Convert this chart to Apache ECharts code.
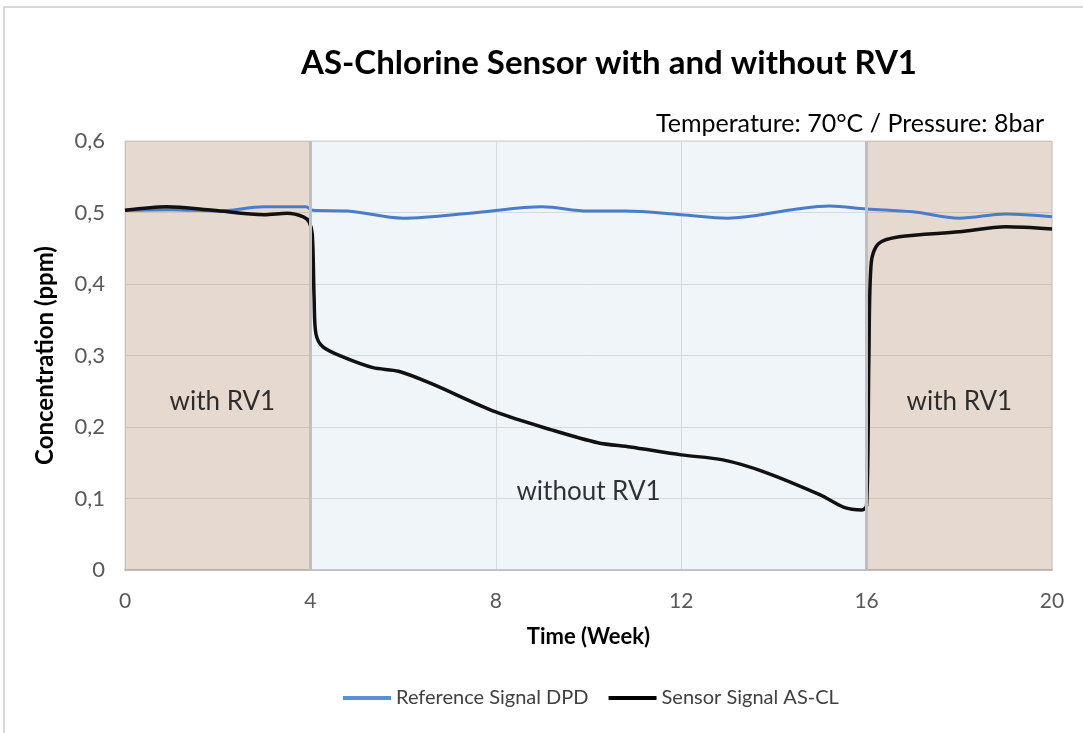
<!DOCTYPE html>
<html>
<head>
<meta charset="utf-8">
<script src="https://cdn.jsdelivr.net/npm/echarts@6/dist/echarts.min.js"></script>
<style>
  html, body { margin: 0; padding: 0; background: #fff; }
  #chart { width: 1083px; height: 733px; }
</style>
</head>
<body>
<div id="chart"></div>
<script>
// reference signal (DPD)
var refWeeks = [0, 1, 2, 3, 3.9, 4.05, 4.8, 6, 7.6, 9, 10, 10.8, 12, 13, 14.5, 15.2, 16, 17, 18, 19, 20];
var refValues = [0.503, 0.504, 0.502, 0.508, 0.508, 0.503, 0.502, 0.492, 0.5, 0.508, 0.502, 0.502, 0.497, 0.492, 0.505, 0.509, 0.505, 0.501, 0.492, 0.498, 0.494];

// sensor signal AS-CL
var sensorWeeks = [0, 0.9, 1.9, 3, 3.5, 3.85, 3.97, 4.04, 4.08, 4.12, 4.27, 4.7, 5.35, 5.9, 6.6, 8, 9.2, 10.2, 10.9, 12, 12.9, 13.8, 15, 15.5, 15.9, 16.0, 16.05, 16.1, 16.25, 16.7, 18, 19, 20];
var sensorValues = [0.503, 0.508, 0.503, 0.497, 0.499, 0.494, 0.487, 0.47, 0.38, 0.33, 0.312, 0.298, 0.283, 0.278, 0.261, 0.221, 0.196, 0.178, 0.172, 0.161, 0.154, 0.137, 0.105, 0.088, 0.084, 0.09, 0.3, 0.43, 0.456, 0.466, 0.473, 0.48, 0.477];

// phases
var phaseStart = [0, 4, 16];
var phaseEnd = [4, 16, 20];
var phaseNames = ['with RV1', 'without RV1', 'with RV1'];
var labelWeeks = [2.1, 10, 18];
var labelValues = [0.235, 0.11, 0.235];

var chart = echarts.init(document.getElementById('chart'));

var fontFam = 'Lato, "Open Sans", sans-serif';
var brown = 'rgba(187,155,128,0.37)';
var blue = 'rgba(205,222,238,0.3)';

function zip(xs, ys) {
  return xs.map(function (x, i) { return [x, ys[i]]; });
}

var option = {
  backgroundColor: '#fff',
  textStyle: { fontFamily: fontFam },
  title: [
    {
      text: 'AS-Chlorine Sensor with and without RV1',
      left: 296,
      top: 42,
      textStyle: { fontSize: 33, fontWeight: 'bold', color: '#000', fontFamily: fontFam }
    },
    {
      text: 'Temperature: 70°C / Pressure: 8bar',
      right: 34,
      top: 106,
      textStyle: { fontSize: 25, fontWeight: 'normal', color: '#000', fontFamily: fontFam }
    }
  ],
  graphic: [
    {
      type: 'rect',
      shape: { x: 4, y: 7, width: 1100, height: 800 },
      style: { fill: 'none', stroke: '#d9d9d9', lineWidth: 2 },
      silent: true
    }
  ],
  legend: {
    data: ['Reference Signal DPD', 'Sensor Signal AS-CL'],
    bottom: 20,
    left: 338,
    itemWidth: 48,
    itemHeight: 4,
    itemGap: 20,
    icon: 'rect',
    textStyle: { fontSize: 20, color: '#404040', fontFamily: fontFam }
  },
  grid: { left: 125, right: 31, top: 141, bottom: 163, show: true, borderColor: '#d0d0d0', borderWidth: 1 },
  xAxis: {
    type: 'value',
    min: 0,
    max: 20,
    interval: 4,
    name: 'Time (Week)',
    nameLocation: 'middle',
    nameGap: 56,
    nameTextStyle: { fontSize: 22, fontWeight: 'bold', color: '#000', fontFamily: fontFam },
    axisLine: { show: true, lineStyle: { color: '#bfbfbf', width: 2 } },
    axisTick: { show: false },
    axisLabel: { fontSize: 21, color: '#595959', margin: 21 },
    splitLine: { show: true, lineStyle: { color: '#d9d9d9', width: 1 } }
  },
  yAxis: {
    type: 'value',
    min: 0,
    max: 0.6,
    interval: 0.1,
    name: 'Concentration (ppm)',
    nameLocation: 'middle',
    nameGap: 68,
    nameTextStyle: { fontSize: 24, fontWeight: 'bold', color: '#000', fontFamily: fontFam },
    axisLine: { show: false },
    axisTick: { show: false },
    axisLabel: {
      fontSize: 22,
      color: '#595959',
      margin: 20,
      formatter: function (v) { return v === 0 ? '0' : v.toFixed(1).replace('.', ','); }
    },
    splitLine: { show: true, lineStyle: { color: '#d9d9d9', width: 1 } }
  },
  series: [
    {
      name: 'Reference Signal DPD',
      type: 'line',
      data: zip(refWeeks, refValues),
      smooth: 0.35,
      showSymbol: false,
      z: 3,
      lineStyle: { color: '#4a7cc9', width: 3 },
      itemStyle: { color: '#5b8fd6' },
      markArea: {
        silent: true,
        data: phaseStart.map(function (s, i) {
          return [
            { xAxis: s, itemStyle: { color: i === 1 ? blue : brown } },
            { xAxis: phaseEnd[i] }
          ];
        })
      },
      markLine: {
        silent: true,
        symbol: 'none',
        label: { show: false },
        lineStyle: { color: '#bfbfbf', width: 3, type: 'solid' },
        data: [{ xAxis: phaseEnd[0] }, { xAxis: phaseEnd[1] }]
      }
    },
    {
      name: 'Sensor Signal AS-CL',
      type: 'line',
      data: zip(sensorWeeks, sensorValues),
      smooth: 0.3,
      showSymbol: false,
      z: 4,
      lineStyle: { color: '#111', width: 3.5 },
      itemStyle: { color: '#000' }
    },
    {
      name: 'phases',
      type: 'scatter',
      symbolSize: 0,
      silent: true,
      data: labelWeeks.map(function (w, i) { return { value: [w, labelValues[i]], name: phaseNames[i] }; }),
      label: {
        show: true,
        position: 'inside',
        formatter: '{b}',
        fontSize: 26,
        color: '#000',
        fontFamily: fontFam
      }
    }
  ]
};

chart.setOption(option);
</script>
</body>
</html>
